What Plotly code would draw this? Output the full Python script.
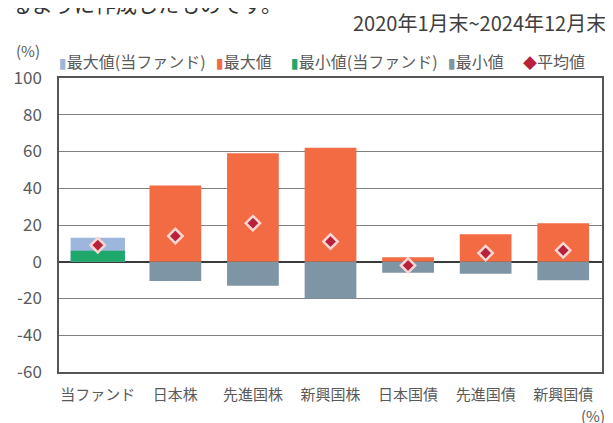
import plotly.graph_objects as go

categories = ["当ファンド", "日本株", "先進国株", "新興国株", "日本国債", "先進国債", "新興国債"]
fund_max = [13]
fund_min = [6]
asset_max = [41.5, 59, 62, 2.5, 15, 21]
asset_min = [-10.5, -13, -20, -6, -6.5, -10]
mean_vals = [9, 14, 21, 11, -2, 4.7, 6.2]
y_ticks = [-60, -40, -20, 0, 20, 40, 60, 80, 100]
y_tick_text = ["-60", "-40", "-20", "0", "20", "40", "60", "80", "100"]

legend_names = ["最大値(当ファンド)", "最大値", "最小値(当ファンド)", "最小値", "平均値"]
legend_colors = ["#9db6db", "#f26b43", "#1fa86c", "#7e95a5", "#b8213b"]
legend_symbols = ["▮", "▮", "▮", "▮", "◆"]
legend_x = [-0.004, 0.285, 0.423, 0.712, 0.850]

FONT = "Noto Sans CJK JP, DejaVu Sans, sans-serif"
TXT = "#5a5a5a"

fig = go.Figure()
fig.add_trace(go.Bar(name=legend_names[0], x=categories[:1], y=fund_max,
                     marker=dict(color=legend_colors[0], line_width=0), width=0.7))
fig.add_trace(go.Bar(name=legend_names[1], x=categories[1:], y=asset_max,
                     marker=dict(color=legend_colors[1], line_width=0), width=0.667))
fig.add_trace(go.Bar(name=legend_names[2], x=categories[:1], y=fund_min,
                     marker=dict(color=legend_colors[2], line_width=0), width=0.7))
fig.add_trace(go.Bar(name=legend_names[3], x=categories[1:], y=asset_min,
                     marker=dict(color=legend_colors[3], line_width=0), width=0.667))
fig.add_trace(go.Scatter(name=legend_names[4], x=categories, y=mean_vals, mode="markers",
                         marker=dict(symbol="diamond", size=11, color=legend_colors[4],
                                     line=dict(color="#fcd6d2", width=2.5))))

annotations = [
    dict(text="2020年1月末~2024年12月末", xref="paper", yref="paper", x=1.011, y=1.0,
         xanchor="right", yanchor="middle", yshift=56, showarrow=False,
         font=dict(size=20, color="#404040")),
    dict(text="(%)", xref="paper", yref="paper", x=-0.083, y=1.0, xanchor="left",
         yanchor="middle", yshift=28, showarrow=False, font=dict(size=15, color=TXT)),
    dict(text="(%)", xref="paper", yref="paper", x=1.01, y=0, xanchor="right",
         yanchor="middle", yshift=-43, showarrow=False, font=dict(size=15, color=TXT)),
    dict(text="るように作成したものです。", xref="paper", yref="paper", x=-0.092, y=1.0,
         xanchor="left", yanchor="middle", yshift=75, showarrow=False,
         font=dict(size=21, color="#333333")),
]
for name, col, sym, lx in zip(legend_names, legend_colors, legend_symbols, legend_x):
    annotations.append(dict(
        text=f"<span style='color:{col};font-size:14px'>{sym}</span>{name}",
        xref="paper", yref="paper", x=lx, y=1.0, xanchor="left", yanchor="middle",
        yshift=17, showarrow=False, font=dict(size=16, color=TXT)))

fig.update_layout(
    width=605, height=415,
    margin=dict(l=51, r=11, t=70, b=51, autoexpand=False),
    barmode="overlay",
    paper_bgcolor="white", plot_bgcolor="white",
    font=dict(family=FONT, color=TXT, size=13),
    showlegend=False,
    xaxis=dict(showgrid=False, showline=True, linecolor="#555", linewidth=1.5, mirror=True,
               ticks="", ticklabelstandoff=8, tickfont=dict(size=15, color=TXT),
               automargin=False),
    yaxis=dict(range=[-60, 100], tickvals=y_ticks, ticktext=y_tick_text, showgrid=True,
               gridcolor="#808080", gridwidth=1.2, zeroline=True, zerolinecolor="#3a3a3a",
               zerolinewidth=1.8, showline=True, linecolor="#555", linewidth=1.5, mirror=True,
               ticks="", ticklabelstandoff=12, tickfont=dict(size=17, color=TXT),
               automargin=False),
    annotations=annotations,
)

fig.write_html("out.html")
